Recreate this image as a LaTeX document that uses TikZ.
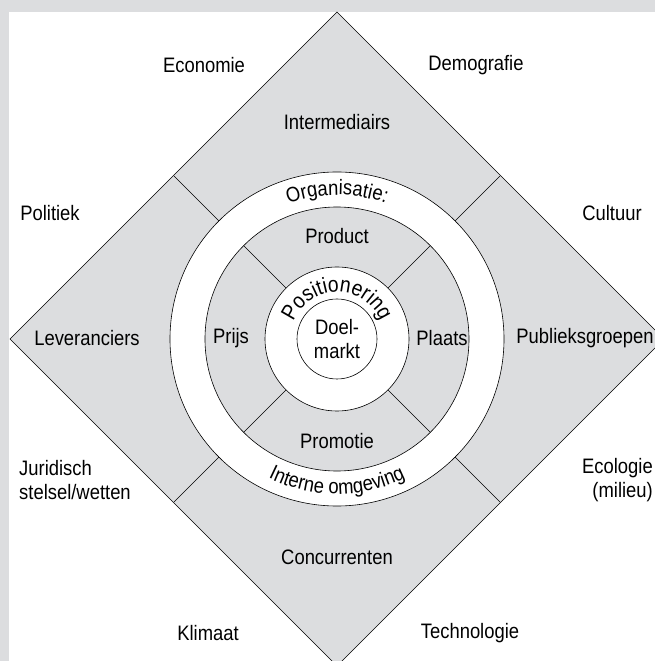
\documentclass[tikz,border=0pt]{standalone}
\usepackage{fontspec}
\setmainfont{Liberation Sans}[FakeStretch=0.88]
\usepackage{tikz}
\usetikzlibrary{decorations.text}
\definecolor{envgrey}{RGB}{220,221,223}
\newcommand{\lblfont}{\fontsize{21}{24}\selectfont}
\newcommand{\posfont}{\fontsize{22}{24}\selectfont}
\tikzstyle{lbl}=[font=\lblfont, inner sep=0pt, align=center]
\tikzstyle{rim}=[draw=black, line width=0.6pt]
\tikzstyle{ring}=[circle, rim, inner sep=0pt, outer sep=0pt]

\begin{document}
\begin{tikzpicture}[
        x=1bp, y=1bp,
        curvetext/.style={decorate, decoration={text along path, text align=center}}
        ]
        \useasboundingbox (-337,-322) rectangle (318,339);
        % page edge and white field
        \fill[envgrey] (-337,-322) rectangle (318,339);
        \fill[white] (-328,-322) rectangle (318,327);
        \clip (-337,-322) rectangle (318,339);

        % outer environment diamond
        \coordinate (top) at (0,327);
        \coordinate (right) at (327,0);
        \coordinate (bot) at (0,-327);
        \coordinate (left) at (-327,0);
        \filldraw[fill=envgrey, rim] (top) -- (right) -- (bot) -- (left) -- cycle;

        % rings
        \node[ring, fill=white, minimum size=334bp] (org) at (0,0) {};
        \node[ring, fill=envgrey, minimum size=264bp] (mix) at (0,0) {};
        \node[ring, fill=white, minimum size=144bp] (pos) at (0,0) {};
        \node[ring, fill=white, minimum size=80bp, lbl] (doel) at (0,0) {Doel-\\markt};

        \foreach \a in {45,135,225,315}{
            \coordinate (edge\a) at (\a:230.5);
            \draw[rim] (org.\a) -- (edge\a);
            \draw[rim] (pos.\a) -- (mix.\a);
        }

        % text on the rings
        \path[curvetext, decoration={text={|\lblfont|Organisatie:}}] (160:144) arc (160:20:144);
        \path[curvetext, decoration={text={|\lblfont|Interne omgeving}}] (200:155) arc (200:340:155);
        \path[curvetext, decoration={text={|\posfont|Positionering}}] (178:47) arc (178:2:47);

        % marketing mix
        \node[lbl] (product) at (0,103) {Product};
        \node[lbl] (promotie) at (0,-102) {Promotie};
        \node[lbl] (prijs) at (-106,1) {Prijs};
        \node[lbl] (plaats) at (105,1) {Plaats};

        % direct environment
        \node[lbl] (inter) at (0,217) {Intermediairs};
        \node[lbl] (conc) at (0,-218) {Concurrenten};
        \node[lbl] (lev) at (-250,1) {Leveranciers};
        \node[lbl] (publ) at (248,1) {Publieksgroepen};

        % macro environment
        \node[lbl] (eco) at (-133,274) {Economie};
        \node[lbl] (demo) at (139,274) {Demografie};
        \node[lbl] (pol) at (-287,126) {Politiek};
        \node[lbl] (cult) at (275,126) {Cultuur};
        \node[lbl, align=left, anchor=west] (jur) at (-318,-141) {Juridisch\\stelsel/wetten};
        \node[lbl, align=right, anchor=east] (ecol) at (316,-141) {Ecologie\\(milieu)};
        \node[lbl] (klim) at (-129,-294) {Klimaat};
        \node[lbl] (tech) at (133,-294) {Technologie};
\end{tikzpicture}
\end{document}
